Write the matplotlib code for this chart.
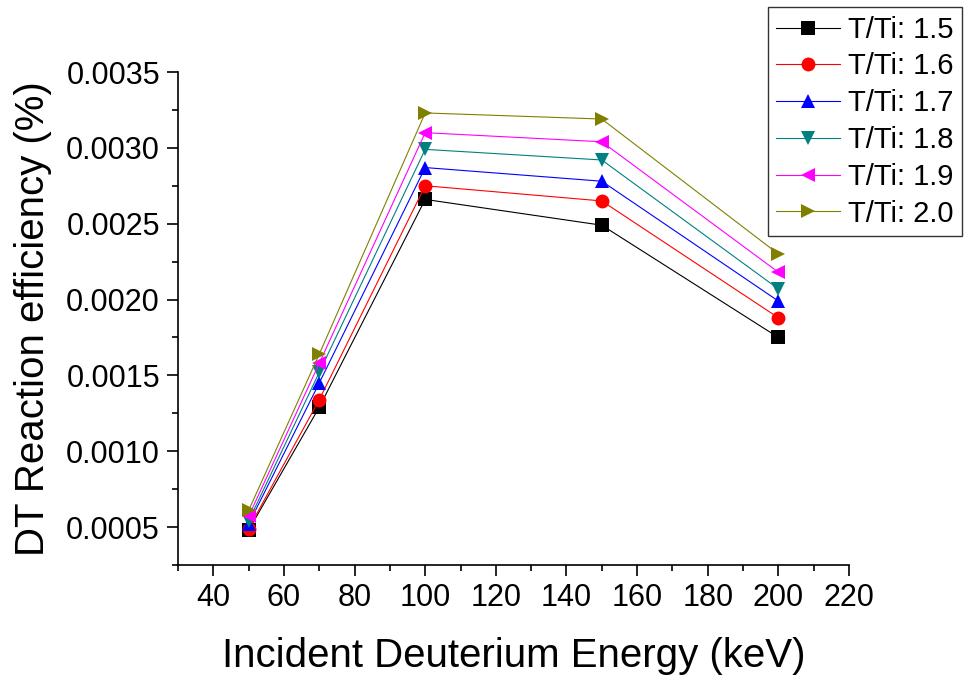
import matplotlib
matplotlib.use("Agg")
import matplotlib.pyplot as plt
from matplotlib.ticker import MultipleLocator, FormatStrFormatter

plt.rcParams['font.family'] = ['Liberation Sans', 'DejaVu Sans']

energy = [50, 70, 100, 150, 200]
labels = ["T/Ti: 1.5", "T/Ti: 1.6", "T/Ti: 1.7", "T/Ti: 1.8", "T/Ti: 1.9", "T/Ti: 2.0"]
eff_15 = [0.00048, 0.00129, 0.00266, 0.00249, 0.00175]
eff_16 = [0.00049, 0.00134, 0.00275, 0.00265, 0.00188]
eff_17 = [0.00052, 0.00145, 0.00287, 0.00278, 0.00199]
eff_18 = [0.00054, 0.00152, 0.00299, 0.00292, 0.00207]
eff_19 = [0.00057, 0.00158, 0.00310, 0.00304, 0.00218]
eff_20 = [0.00061, 0.00164, 0.00323, 0.00319, 0.00230]
series = [eff_15, eff_16, eff_17, eff_18, eff_19, eff_20]
colors = ['#000000', '#ff0000', '#0000ff', '#008080', '#ff00ff', '#808000']
markers = ['s', 'o', '^', 'v', '<', '>']

fig = plt.figure(figsize=(9.66, 6.75), dpi=100)
ax = fig.add_axes([178/966, 1-565/675, (849-178)/966, (565-72)/675])

handles = []
for vals, c, m, lab in zip(series, colors, markers, labels):
    h, = ax.plot(energy, vals, color=c, lw=0.8, marker=m, markersize=10,
                 markeredgewidth=0, markerfacecolor=c, label=lab)
    handles.append(h)

ax.set_xlim(30, 220)
ax.set_ylim(0.00025, 0.0035)
ax.xaxis.set_minor_locator(MultipleLocator(10))
ax.yaxis.set_minor_locator(MultipleLocator(0.00025))
ax.set_xticks([40, 60, 80, 100, 120, 140, 160, 180, 200, 220])
ax.set_yticks([0.0005, 0.0010, 0.0015, 0.0020, 0.0025, 0.0030, 0.0035])
ax.yaxis.set_major_formatter(FormatStrFormatter('%.4f'))

for s in ['top', 'right']:
    ax.spines[s].set_visible(False)
for s in ['left', 'bottom']:
    ax.spines[s].set_linewidth(1.2)

ax.tick_params(which='major', direction='out', length=8, width=1.2, labelsize=22, pad=5)
ax.tick_params(which='minor', direction='out', length=4.5, width=1.2)

ax.set_xlabel('Incident Deuterium Energy (keV)', fontsize=29, labelpad=17)
ax.set_ylabel('DT Reaction efficiency (%)', fontsize=29, labelpad=10)

leg = fig.legend(handles=handles, loc='upper right',
                 bbox_to_anchor=(962/966, 1-7/675),
                 fontsize=21, frameon=True, fancybox=False,
                 edgecolor='black', handlelength=2.2, handletextpad=0.25,
                 labelspacing=0.3, borderpad=0.3, borderaxespad=0)
leg.get_frame().set_linewidth(1.0)

fig.savefig('out.png', dpi=100)
